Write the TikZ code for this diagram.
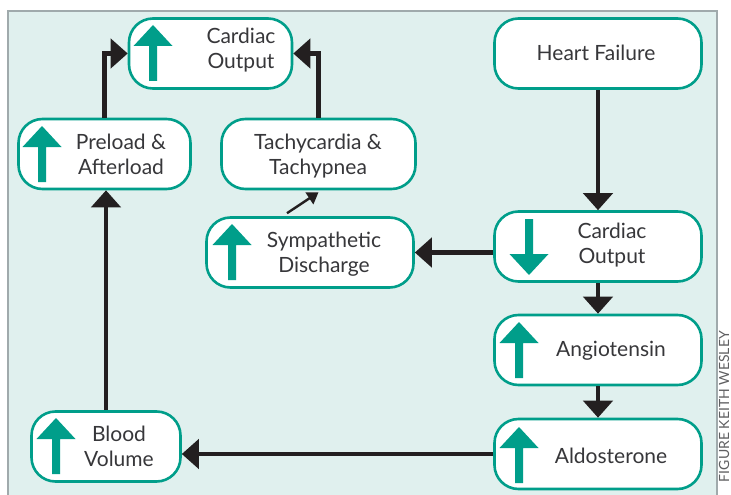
\documentclass[tikz,border=0pt]{standalone}
\usepackage{fontspec}
\setmainfont{Lato}
\usetikzlibrary{arrows.meta,calc}
\definecolor{jade}{RGB}{0,158,138}
\definecolor{mint}{RGB}{224,240,238}
\definecolor{frame}{RGB}{160,170,172}
\definecolor{ink}{RGB}{35,31,32}
\definecolor{txt}{RGB}{55,55,58}
\tikzset{
  >={Triangle[width=29pt,length=17pt]},
  box/.style={draw=jade,line width=2.6pt,fill=white,rounded corners=24pt,
    minimum height=70pt,minimum width=#1,inner sep=0pt},
  box/.default=207pt,
  lbl/.style={font=\fontsize{21}{25}\selectfont,text=txt,align=center},
  flow/.style={->,line width=4.5pt,draw=ink},
  kneeline/.style={line width=4.5pt,draw=ink},
  thin flow/.style={-{Triangle[width=14pt,length=11pt]},line width=2.4pt,draw=ink},
  credit/.style={font=\fontsize{14}{14}\selectfont,text=txt!80,inner sep=0pt},
  % pictograms
  pics/up/.style={code={
    \fill[jade] (-4,28) -- (-4,-7) -- (-19.5,-7) -- (0,-28) -- (19.5,-7) -- (4,-7) -- (4,28) -- cycle;
  }},
  pics/down/.style={code={
    \fill[jade] (-4,-28) -- (-4,7) -- (-19.5,7) -- (0,28) -- (19.5,7) -- (4,7) -- (4,-28) -- cycle;
  }},
}
\begin{document}
\begin{tikzpicture}[x=1pt,y=-1pt]
  \useasboundingbox (0,0) rectangle (731,495);
  \fill[mint] (8,11) rectangle (717,495);
  \draw[frame,line width=2.6pt] (8,495) -- (8,11) -- (717,11) -- (717,495);

  % boxes
  \node[box=163pt] (coUp) at (210.5,53.5) {};
  \node[box] (hf) at (598,53.5) {};
  \node[box=172pt] (pre) at (104.5,154) {};
  \node[box=194pt] (tachy) at (318.5,154) {};
  \node[box] (symp) at (310,252.5) {};
  \node[box] (coDown) at (598,246.5) {};
  \node[box] (angio) at (598,350) {};
  \node[box] (aldo) at (598,454) {};
  \node[box=149pt] (blood) at (106,446.5) {};

  % labels
  \node[lbl] (coUpT) at (241,50) {Cardiac\\Output};
  \node[lbl] (hfT) at (596,53) {Heart Failure};
  \node[lbl] (preT) at (121,154) {Preload \&\\Afterload};
  \node[lbl] (tachyT) at (318,156) {Tachycardia \&\\Tachypnea};
  \node[lbl] (sympT) at (324,254) {Sympathetic\\Discharge};
  \node[lbl] (coDownT) at (612,245) {Cardiac\\Output};
  \node[lbl] (angioT) at (611,351) {Angiotensin};
  \node[lbl] (aldoT) at (611,456) {Aldosterone};
  \node[lbl] (bloodT) at (119,446) {Blood\\Volume};

  % up / down marks
  \pic at (153,53) {up};
  \pic at (42,154) {up};
  \pic at (232,252) {up};
  \pic at (529,247) {down};
  \pic at (519,350) {up};
  \pic at (519,455) {up};
  \pic at (56,446) {up};

  % connectors
  \draw[flow] (hf) -- (coDown);
  \draw[flow] (coDown) -- (angio);
  \draw[flow] (angio) -- (aldo);
  \draw[flow] (coDown.west |- symp.east) -- (symp.east);
  \draw[flow] (aldo.west) -- (aldo.west -| blood.east);
  \draw[flow] (blood.north) -- (blood.north |- pre.south);
  \coordinate (kneeL) at (pre.north |- coUp.west);
  \coordinate (kneeR) at (tachy.north |- coUp.east);
  \draw[kneeline] (pre.north) -- ($(kneeL)+(0,2.25)$);
  \draw[flow] ($(kneeL)+(-2.25,0)$) -- (coUp.west);
  \draw[kneeline] (tachy.north) -- ($(kneeR)+(0,2.25)$);
  \draw[flow] ($(kneeR)+(2.25,0)$) -- (coUp.east);
  \draw[thin flow] ($(symp.north)+(-23,-3)$) -- ($(tachy.south)+(0,2)$);

  \node[credit,rotate=90,anchor=east] (credit) at (724,331) {FIGURE KEITH WESLEY};
\end{tikzpicture}
\end{document}
